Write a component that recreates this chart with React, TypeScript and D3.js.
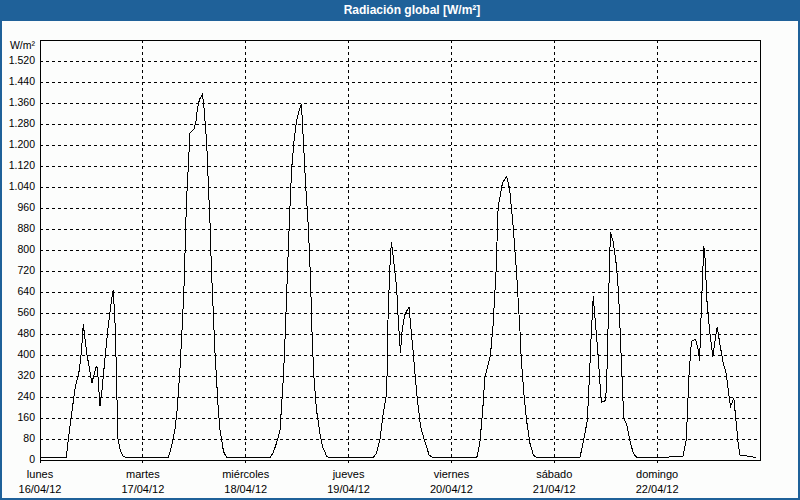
import React from "react";
import * as d3 from "d3";

// hours since Mon 16/04/12 00:00 and global radiation (W/m²)
const HOURS = [
  0, 6.1, 6.6, 7.4, 8.2, 9.2, 9.7, 10.1, 10.9, 12.1, 13.1, 13.4, 14.0, 14.4, 15.2, 15.9, 16.7, 17.1, 17.5, 17.9, 18.1, 18.7, 19.4, 20.2,
  29.9, 30.7, 31.5, 32.0, 32.7, 33.3, 33.7, 34.0, 34.2, 34.6, 35.0, 35.4, 35.9, 36.4, 36.7, 37.2, 37.9, 38.3, 38.9, 39.3, 39.7, 40.0, 40.4, 40.8, 41.2, 41.6, 42.0, 42.4, 42.8, 43.5, 44.3,
  53.6, 54.4, 55.2, 56.0, 56.8, 57.2, 57.7, 58.2, 58.7, 59.3, 59.9, 60.5, 61.0, 61.4, 62.0, 62.6, 63.1, 63.5, 63.9, 64.5, 65.3, 65.9, 66.9, 67.6,
  77.7, 78.5, 79.3, 80.1, 80.9, 81.2, 81.6, 82.0, 82.4, 83.2, 83.6, 84.1, 84.5, 85.1, 86.1, 87.1, 87.9, 88.8, 89.8, 90.8, 91.7,
  101.9, 102.6, 103.3, 103.8, 104.3, 105.1, 105.7, 106.4, 106.9, 107.5, 107.9, 108.9, 109.6, 110.4, 111.2, 112.0, 112.3, 112.9, 113.5, 114.3, 115.1, 115.9,
  126.0, 126.9, 127.7, 128.2, 128.6, 129.1, 129.4, 129.8, 130.3, 130.6, 131.0, 131.6, 132.0, 132.4, 132.7, 133.1, 133.7, 134.5, 135.0, 136.2, 136.9, 137.6, 138.4, 139.2,
  150.0, 150.8, 151.4, 152.0, 153.0, 153.6, 153.9, 154.3, 154.7, 154.9, 155.2, 155.6, 156.3, 157.0, 158.0, 158.6, 159.4, 160.1, 161.1, 161.9, 162.9, 163.3, 167.0,
];
const RADIATION = [
  8, 8, 77, 179, 274, 344, 420, 516, 408, 293, 357, 350, 204, 255, 395, 509, 611, 649, 522, 306, 90, 39, 14, 8,
  8, 52, 116, 192, 357, 547, 700, 890, 992, 1119, 1246, 1252, 1259, 1290, 1335, 1373, 1394, 1335, 1208, 1043, 890, 725, 573, 420, 306, 192, 116, 77, 33, 11, 8,
  8, 27, 65, 112, 319, 471, 700, 915, 1106, 1220, 1296, 1335, 1354, 1233, 1043, 890, 700, 471, 319, 192, 103, 52, 14, 8,
  8, 25, 76, 178, 254, 533, 724, 832, 775, 660, 533, 409, 495, 552, 584, 406, 254, 127, 70, 19, 8,
  8, 60, 190, 315, 345, 400, 510, 715, 965, 1017, 1055, 1081, 1030, 890, 713, 490, 382, 255, 154, 65, 20, 8,
  10, 80, 150, 319, 471, 624, 560, 484, 382, 306, 220, 224, 227, 382, 636, 867, 834, 741, 635, 159, 134, 77, 27, 10,
  12, 76, 317, 453, 459, 420, 376, 573, 738, 815, 763, 611, 484, 394, 508, 446, 370, 330, 203, 235, 64, 19, 10,
];

const DAY_NAMES = ["lunes", "martes", "miércoles", "jueves", "viernes", "sábado", "domingo"];
const DAY_DATES = ["16/04/12", "17/04/12", "18/04/12", "19/04/12", "20/04/12", "21/04/12", "22/04/12"];
const Y_TICKS = [0, 80, 160, 240, 320, 400, 480, 560, 640, 720, 800, 880, 960, 1040, 1120, 1200, 1280, 1360, 1440, 1520];

const TITLE = "Radiación global [W/m²]";
const UNIT = "W/m²";

const W = 800;
const H = 500;
const margin = { left: 40, right: 40, top: 40, bottom: 40 };
const BLUE = "#1f6199";
const FONT = "'Liberation Sans', Arial, sans-serif";

const start = new Date(2012, 3, 16);
const end = new Date(2012, 3, 23);

const fmt = d3.formatLocale({ decimal: ",", thousands: ".", grouping: [3], currency: ["", "€"] }).format(",d");

export default function App() {
  const x = d3.scaleTime().domain([start, end]).range([margin.left, W - margin.right]);
  const y = d3.scaleLinear().domain([0, 1600]).range([H - margin.bottom, margin.top]);

  const points = HOURS.map((h, i) => ({ t: d3.timeMinute.offset(start, Math.round(h * 60)), v: RADIATION[i] }));
  const line = d3
    .line<{ t: Date; v: number }>()
    .x((d) => x(d.t))
    .y((d) => y(d.v));

  const days = DAY_NAMES.map((_, i) => d3.timeDay.offset(start, i));
  const x0 = margin.left;
  const x1 = W - margin.right;
  const y0 = H - margin.bottom;
  const y1 = margin.top;

  return (
    <svg width={W} height={H} style={{ position: "absolute", left: 0, top: 0 }} fontFamily={FONT}>
      <rect x={0} y={0} width={W} height={H} fill="#fcfdfc" />
      <rect x={0} y={0} width={W} height={21} fill={BLUE} />
      <rect x={1} y={1} width={W - 2} height={H - 2} fill="none" stroke={BLUE} strokeWidth={2} />
      <text x={412} y={11} fill="#fff" fontWeight="bold" fontSize={12} textAnchor="middle" dominantBaseline="middle">
        {TITLE}
      </text>

      {/* horizontal grid + y labels */}
      <g shapeRendering="crispEdges">
        {Y_TICKS.filter((t) => t > 0).map((t) => (
          <line key={t} x1={x0} x2={x1} y1={y(t)} y2={y(t)} stroke="#000" strokeDasharray="3,3" />
        ))}
        {days.slice(1).map((d, i) => (
          <line key={i} x1={x(d)} x2={x(d)} y1={y1} y2={y0} stroke="#000" strokeDasharray="3,3" />
        ))}
        {days.map((d, i) => (
          <line key={"t" + i} x1={x(d)} x2={x(d)} y1={y0} y2={y0 + 3} stroke="#000" />
        ))}
        <rect x={x0} y={y1} width={x1 - x0} height={y0 - y1} fill="none" stroke="#000" />
      </g>

      {Y_TICKS.map((t) => (
        <text key={t} x={35} y={y(t)} fontSize={10.5} textAnchor="end" dominantBaseline="middle" fill="#000">
          {fmt(t)}
        </text>
      ))}
      <text x={35} y={46} fontSize={10.5} textAnchor="end" dominantBaseline="middle" fill="#000">
        {UNIT}
      </text>

      {days.map((d, i) => (
        <g key={"l" + i} fontSize={11} textAnchor="middle" fill="#000">
          <text x={x(d)} y={475} dominantBaseline="middle">
            {DAY_NAMES[i]}
          </text>
          <text x={x(d)} y={490} dominantBaseline="middle">
            {DAY_DATES[i]}
          </text>
        </g>
      ))}

      <path d={line(points) || ""} fill="none" stroke="#000" strokeWidth={1} shapeRendering="crispEdges" />
    </svg>
  );
}
